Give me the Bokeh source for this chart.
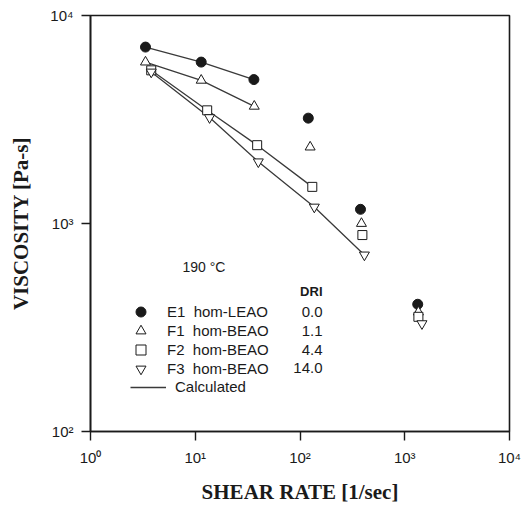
from bokeh.plotting import figure
from bokeh.models import Range1d, FixedTicker, Legend, LegendItem, Label
from bokeh.embed import file_html
from bokeh.resources import INLINE

# ---- data ----
shear_e1 = [3.35, 11.4, 36.3, 120, 378, 1330]
visc_e1 = [7050, 5970, 4920, 3210, 1170, 409]
shear_f1 = [3.35, 11.4, 36.6, 125, 386, 1350]
visc_f1 = [5970, 4880, 3660, 2330, 1000, 375]
shear_f2 = [3.8, 13.0, 39, 131, 394, 1350]
visc_f2 = [5450, 3500, 2380, 1500, 880, 356]
shear_f3 = [3.8, 13.7, 40, 137, 412, 1460]
visc_f3 = [5350, 3230, 1980, 1200, 706, 330]

calc_shear_e1 = [3.35, 11.4, 36.3]
calc_visc_e1 = [7050, 5970, 4920]
calc_shear_f1 = [3.35, 11.4, 36.6]
calc_visc_f1 = [5970, 4880, 3660]
calc_shear_f2 = [3.8, 13.0, 39, 131]
calc_visc_f2 = [5450, 3500, 2380, 1500]
calc_shear_f3 = [3.8, 13.7, 40, 137, 412]
calc_visc_f3 = [5350, 3230, 1980, 1200, 706]

series_names = ["E1\u00a0\u00a0hom-LEAO", "F1\u00a0\u00a0hom-BEAO", "F2\u00a0\u00a0hom-BEAO", "F3\u00a0\u00a0hom-BEAO"]
dri_values = ["0.0", "1.1", "4.4", "14.0"]
x_ticks = [1, 10, 100, 1000, 10000]
x_tick_labels = {1: "10\u2070", 10: "10\u00b9", 100: "10\u00b2", 1000: "10\u00b3", 10000: "10\u2074"}
y_ticks = [100, 1000, 10000]
y_tick_labels = {100: "10\u00b2", 1000: "10\u00b3", 10000: "10\u2074"}

INK = "#1a1a1a"
SANS = "Liberation Sans"
SERIF = "Liberation Serif"

p = figure(width=522, height=506, x_axis_type="log", y_axis_type="log",
           x_range=Range1d(1, 10000), y_range=Range1d(100, 10000),
           output_backend="svg", toolbar_location=None,
           min_border_left=90, min_border_right=13, min_border_top=15, min_border_bottom=74)

p.xgrid.visible = False
p.ygrid.visible = False
p.outline_line_color = INK
p.outline_line_width = 1.6
p.background_fill_color = "white"
p.border_fill_color = "white"

for ax, ticks, labels in ((p.xaxis, x_ticks, x_tick_labels), (p.yaxis, y_ticks, y_tick_labels)):
    ax.ticker = FixedTicker(ticks=ticks, minor_ticks=[])
    ax.major_label_overrides = labels
    ax.axis_line_color = INK
    ax.axis_line_width = 1.6
    ax.major_tick_line_color = INK
    ax.major_tick_line_width = 1.4
    ax.major_tick_out = 9
    ax.major_tick_in = 0
    ax.minor_tick_line_color = None
    ax.major_label_text_font = SANS
    ax.major_label_text_font_size = "15px"
    ax.major_label_text_color = INK
    ax.axis_label_text_font = SERIF
    ax.axis_label_text_font_style = "bold"
    ax.axis_label_text_font_size = "21px"
    ax.axis_label_text_color = INK

p.xaxis.axis_label = "SHEAR RATE [1/sec]"
p.xaxis.major_label_standoff = 8
p.xaxis.axis_label_standoff = 11
p.yaxis.axis_label = "VISCOSITY [Pa-s]"
p.yaxis.major_label_standoff = 8
p.yaxis.axis_label_standoff = 14

LINE = "#3a3a3a"
calc_renderers = []
for xs, ys in ((calc_shear_e1, calc_visc_e1), (calc_shear_f1, calc_visc_f1),
               (calc_shear_f2, calc_visc_f2), (calc_shear_f3, calc_visc_f3)):
    calc_renderers.append(p.line(xs, ys, line_color=LINE, line_width=1.3))

r_e1 = p.scatter(shear_e1, visc_e1, marker="circle", size=10, fill_color=INK, line_color=INK)
r_f1 = p.scatter(shear_f1, visc_f1, marker="triangle", size=10, fill_color="white", line_color=INK, line_width=1)
r_f2 = p.scatter(shear_f2, visc_f2, marker="square", size=9, fill_color="white", line_color=INK, line_width=1)
r_f3 = p.scatter(shear_f3, visc_f3, marker="inverted_triangle", size=10, fill_color="white", line_color=INK, line_width=1)

legend_style = dict(border_line_color=None, background_fill_alpha=0, padding=0, margin=0,
                    label_text_font=SANS, label_text_font_size="15px", label_text_color=INK)

# one small legend per row so that 10px markers can sit on a 19px row pitch
for i, (name, rend) in enumerate(zip(series_names, [r_e1, r_f1, r_f2, r_f3])):
    leg = Legend(items=[LegendItem(label=name, renderers=[rend])],
                 location=(38, 107 - 19 * i), glyph_width=25, glyph_height=25, label_height=25,
                 label_standoff=14, **legend_style)
    p.add_layout(leg, "center")

leg_calc = Legend(items=[LegendItem(label="Calculated", renderers=[calc_renderers[3]])],
                  location=(40, 36), glyph_width=36, glyph_height=16, label_height=16,
                  label_standoff=9, **legend_style)
p.add_layout(leg_calc, "center")

p.add_layout(Label(x=92, y=165, x_units="screen", y_units="screen", text="190 \u00b0C",
                   text_font=SANS, text_font_size="14px", text_color=INK, text_baseline="middle"))
p.add_layout(Label(x=232, y=140, x_units="screen", y_units="screen", text="DRI",
                   text_font=SANS, text_font_size="13px", text_font_style="bold", text_color=INK,
                   text_align="right", text_baseline="middle"))
row_offsets = [120, 101, 82, 64]
for txt, yy in zip(dri_values, row_offsets):
    p.add_layout(Label(x=232, y=yy, x_units="screen", y_units="screen", text=txt,
                       text_font=SANS, text_font_size="15px", text_color=INK,
                       text_align="right", text_baseline="middle"))

open("out.html", "w").write(file_html(p, INLINE))
